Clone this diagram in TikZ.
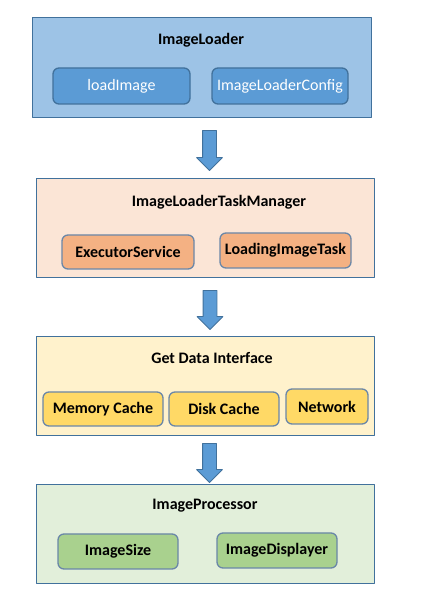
\documentclass[tikz,border=0pt]{standalone}
\usepackage{fontspec}
\setmainfont{Carlito}
\usetikzlibrary{shapes.arrows}
\definecolor{borderline}{HTML}{41719C}
\definecolor{innerline}{HTML}{6A87A8}
\definecolor{loaderbg}{HTML}{9DC3E6}
\definecolor{loaderfg}{HTML}{5B9BD5}
\definecolor{taskbg}{HTML}{FBE5D6}
\definecolor{taskfg}{HTML}{F4B183}
\definecolor{databg}{HTML}{FFF2CC}
\definecolor{datafg}{HTML}{FFD966}
\definecolor{procbg}{HTML}{E2EFDA}
\definecolor{procfg}{HTML}{A9D18E}
\begin{document}
\begin{tikzpicture}[line join=bevel,
  every node/.style={font=\fontsize{16bp}{19bp}\selectfont},
  layerbox/.style={draw=borderline,line width=0.9bp,inner sep=0bp},
  layertitle/.style={font=\fontsize{16bp}{19bp}\selectfont\bfseries},
  partbox/.style={draw=innerline,line width=1.3bp,rounded corners=6bp,inner sep=0bp,
    font=\fontsize{16bp}{19bp}\selectfont\bfseries},
  downarrow/.style={single arrow,draw=borderline,fill=loaderfg,line width=0.9bp,
    shape border rotate=270,inner sep=6.5bp,minimum height=40bp,minimum width=25bp,
    single arrow head extend=6bp,single arrow head indent=0bp}]
\useasboundingbox (0bp,0bp) rectangle (422bp,606bp);
%%
\node (loaderbox) at (201.5bp,539bp) [layerbox,fill=loaderbg,minimum width=339bp,minimum height=100bp] {};
  \node (loadertitle) at (201bp,566bp) [layertitle] {ImageLoader};
  \node (loadimage) at (121.5bp,520bp) [partbox,fill=loaderfg,draw=borderline,minimum width=137bp,minimum height=36bp,font=\fontsize{16bp}{19bp}\selectfont,text=white] {loadImage};
  \node (loaderconfig) at (280bp,520bp) [partbox,fill=loaderfg,draw=borderline,minimum width=136bp,minimum height=36bp,font=\fontsize{16bp}{19bp}\selectfont,text=white] {ImageLoaderConfig};
%
\node (taskbox) at (205bp,378.5bp) [layerbox,fill=taskbg,minimum width=338bp,minimum height=99bp] {};
  \node (tasktitle) at (219bp,404bp) [layertitle] {ImageLoaderTaskManager};
  \node (executor) at (128bp,354bp) [partbox,fill=taskfg,minimum width=132bp,minimum height=34bp] {ExecutorService};
  \node (loadingtask) at (285.5bp,355.5bp) [partbox,fill=taskfg,minimum width=131bp,minimum height=35bp] {LoadingImageTask};
%
\node (databox) at (205bp,220.5bp) [layerbox,fill=databg,minimum width=338bp,minimum height=99bp] {};
  \node (datatitle) at (212bp,248bp) [layertitle] {Get Data Interface};
  \node (memcache) at (103bp,197bp) [partbox,fill=datafg,minimum width=120bp,minimum height=34bp] {Memory Cache};
  \node (diskcache) at (224bp,197bp) [partbox,fill=datafg,minimum width=110bp,minimum height=34bp] {Disk Cache};
  \node (network) at (327bp,199.5bp) [partbox,fill=datafg,minimum width=82bp,minimum height=35bp] {Network};
%
\node (procbox) at (205bp,72.5bp) [layerbox,fill=procbg,minimum width=338bp,minimum height=99bp] {};
  \node (proctitle) at (205bp,100bp) [layertitle] {ImageProcessor};
  \node (imagesize) at (118bp,54.5bp) [partbox,fill=procfg,minimum width=120bp,minimum height=35bp] {ImageSize};
  \node (displayer) at (277bp,55.5bp) [partbox,fill=procfg,minimum width=120bp,minimum height=35bp] {ImageDisplayer};
%%
\node (arrow_0) at (209.5bp,459bp) [downarrow] {};
  \node (arrow_1) at (210bp,299.5bp) [downarrow,minimum height=39bp] {};
  \node (arrow_2) at (209.5bp,146.5bp) [downarrow,minimum height=39bp] {};
%
\end{tikzpicture}
\end{document}
